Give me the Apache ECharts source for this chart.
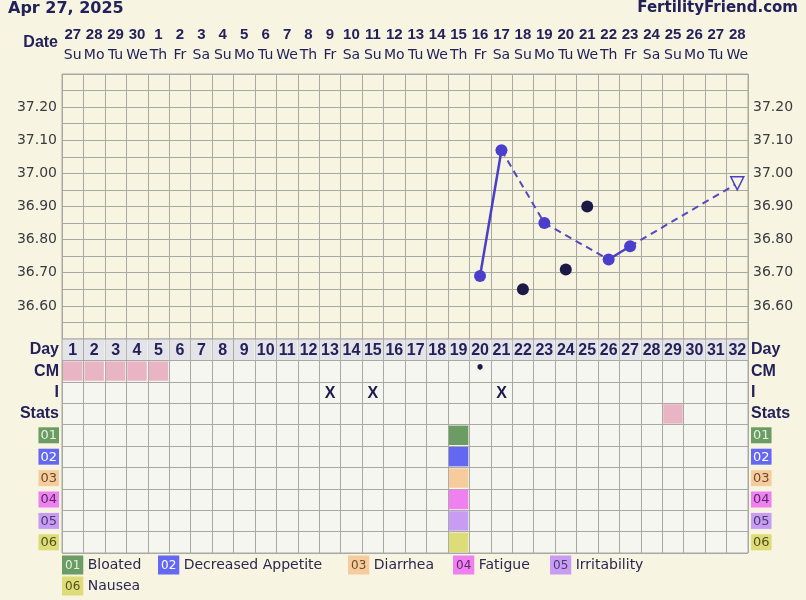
<!DOCTYPE html>
<html><head><meta charset="utf-8">
<script src="https://cdn.jsdelivr.net/npm/echarts@6/dist/echarts.min.js"></script>
<style>html,body{margin:0;padding:0;background:#f7f4e1;}#c{width:806px;height:600px;}</style>
</head><body><div id="c"></div>
<script>
// ---------- data ----------
const chartDate = 'Apr 27, 2025';
const siteName = 'FertilityFriend.com';
const dateNumbers = ['27','28','29','30','1','2','3','4','5','6','7','8','9','10','11','12','13','14','15','16','17','18','19','20','21','22','23','24','25','26','27','28'];
const weekdays = ['Su','Mo','Tu','We','Th','Fr','Sa','Su','Mo','Tu','We','Th','Fr','Sa','Su','Mo','Tu','We','Th','Fr','Sa','Su','Mo','Tu','We','Th','Fr','Sa','Su','Mo','Tu','We'];
const cycleDays = ['1','2','3','4','5','6','7','8','9','10','11','12','13','14','15','16','17','18','19','20','21','22','23','24','25','26','27','28','29','30','31','32'];
const tempLabels = ['36.60','36.70','36.80','36.90','37.00','37.10','37.20'];
const tempDays = ['20','21','23','26','27'];
const tempValues = [36.69, 37.07, 36.85, 36.74, 36.78];
const excludedDays = ['22','24','25'];
const excludedValues = [36.65, 36.71, 36.90];
const projectedDay = '32';
const projectedValue = 36.97;
const solidSegments = [['20','21'], ['26','27']];
const dashedSegments = [['21','23'], ['23','26'], ['27','32']];
const rowLabels = ['Day','CM','I','Stats','01','02','03','04','05','06'];
const cmMenstrualDays = ['1','2','3','4','5'];
const cmDotDays = ['20'];
const intercourseDays = ['13','15','21'];
const statsMarkDays = ['29'];
const symptomCodes = ['01','02','03','04','05','06'];
const symptomNames = ['Bloated','Decreased Appetite','Diarrhea','Fatigue','Irritability','Nausea'];
const symptomDays = [['19'],['19'],['19'],['19'],['19'],['19']];

// ---------- styles ----------
const FONT = 'DejaVu Sans';
const BFONT = 'Liberation Sans';
const NAVY = '#23215a';
const LINE = '#4a3fc6';
const GRIDC = '#a9a9a4';
const BG = '#f7f4e1';
const PINK = '#e9b5c5';
const symptomFill = ['#6b9c64','#6467f2','#f6cc9c','#ef80ef','#c79cf2','#dedc78'];
const symptomText = ['#e8f2e0','#ffffff','#6a4a30','#5a2a6a','#4a3a70','#505020'];

const tempLookup = {};
tempDays.forEach((d,i)=>{ tempLookup[d] = tempValues[i]; });
tempLookup[projectedDay] = projectedValue;

const rich = { lab: {fontWeight:'bold', color:NAVY, fontSize:16, fontFamily:BFONT} };
symptomCodes.forEach((c,i)=>{
  rich['s'+i] = {backgroundColor:symptomFill[i], color:symptomText[i], fontSize:13, fontFamily:FONT, padding:[2,2,1,2], lineHeight:15};
});
function rowLabelFmt(v){ const i = symptomCodes.indexOf(v); return i >= 0 ? '{s'+i+'|'+v+'}' : '{lab|'+v+'}'; }
function tempFmt(v){ const s = (Math.round(v*100)/100).toFixed(2); return tempLabels.indexOf(s) >= 0 ? s : ''; }

function cellBox(api, inset){
  const c = api.coord([api.value(0), api.value(1)]);
  const s = api.size([1,1]);
  return {c, s, shape:{x:c[0]-s[0]/2+inset, y:c[1]-s[1]/2+inset, width:s[0]-2*inset, height:s[1]-2*inset}};
}

const series = [];
solidSegments.forEach(seg => series.push({
  type:'line', xAxisIndex:0, yAxisIndex:0, data: seg.map(d=>[d, tempLookup[d]]),
  showSymbol:false, silent:true, z:3, lineStyle:{color:LINE, width:2.5, opacity:1}
}));
dashedSegments.forEach(seg => series.push({
  type:'line', xAxisIndex:0, yAxisIndex:0, data: seg.map(d=>[d, tempLookup[d]]),
  showSymbol:false, silent:true, z:3, lineStyle:{color:'#5548c0', width:2, type:[7,5], opacity:1}
}));
series.push({type:'scatter', xAxisIndex:0, yAxisIndex:0, z:5, symbolSize:12,
  data: tempDays.map((d,i)=>[d, tempValues[i]]), itemStyle:{color:'#4a3fcc', opacity:1}});
series.push({type:'scatter', xAxisIndex:0, yAxisIndex:0, z:5, symbolSize:12,
  data: excludedDays.map((d,i)=>[d, excludedValues[i]]), itemStyle:{color:'#1c1947', opacity:1}});
series.push({type:'scatter', xAxisIndex:0, yAxisIndex:0, z:6, symbol:'triangle', symbolRotate:180, symbolSize:13,
  data: [[projectedDay, projectedValue]], itemStyle:{color:BG, borderColor:LINE, borderWidth:1.5, opacity:1}});

// Day row
series.push({type:'custom', xAxisIndex:1, yAxisIndex:2, z:2,
  data: cycleDays.map(d=>[d,'Day']),
  renderItem:(params, api)=>{
    const b = cellBox(api, 0.5);
    return {type:'group', children:[
      {type:'rect', shape:b.shape, style:{fill:'#e3e3e8'}},
      {type:'text', x:b.c[0], y:b.c[1]+1, style:{text:cycleDays[params.dataIndex], fill:NAVY, font:'bold 16px '+BFONT, align:'center', verticalAlign:'middle'}}
    ]};
  }
});

// coloured cells
const colorCells = [];
cmMenstrualDays.forEach(d=>colorCells.push({value:[d,'CM'], itemStyle:{color:PINK}}));
statsMarkDays.forEach(d=>colorCells.push({value:[d,'Stats'], itemStyle:{color:PINK}}));
symptomCodes.forEach((c,i)=>symptomDays[i].forEach(d=>colorCells.push({value:[d,c], itemStyle:{color:symptomFill[i]}})));
series.push({type:'custom', xAxisIndex:1, yAxisIndex:2, z:2, data: colorCells,
  renderItem:(params, api)=>{
    const b = cellBox(api, 1);
    return {type:'rect', shape:b.shape, style:{fill:api.visual('color'), opacity:1}};
  }
});

// text marks
const markTexts = [];
const markData = [];
cmDotDays.forEach(d=>{ markData.push([d,'CM']); markTexts.push('•'); });
intercourseDays.forEach(d=>{ markData.push([d,'I']); markTexts.push('X'); });
series.push({type:'custom', xAxisIndex:1, yAxisIndex:2, z:3, data: markData,
  renderItem:(params, api)=>{
    const b = cellBox(api, 0);
    const t = markTexts[params.dataIndex];
    return {type:'text', x:b.c[0], y:b.c[1] + (t === '•' ? -2 : 1),
      style:{text:t, fill:'#1d1a4a', font:(t === '•' ? 'bold 15px '+FONT : 'bold 16px '+BFONT), align:'center', verticalAlign:'middle'}};
  }
});

// legend as graphic text
const legendPos = [[62,565],[158,565],[348,565],[453,565],[550,565],[62,586]];
const graphic = [
  {type:'text', left:8, top:1, style:{text:chartDate, font:'bold 16px '+FONT, fill:NAVY}},
  {type:'text', right:8, top:1, style:{text:siteName, font:'bold 15px '+FONT, fill:NAVY}},
  {type:'text', x:58, y:43, style:{text:'Date', font:'bold 16px '+BFONT, fill:NAVY, align:'right', verticalAlign:'middle'}}
];
symptomCodes.forEach((c,i)=>{
  graphic.push({type:'text', x:legendPos[i][0], y:legendPos[i][1], style:{
    text:'{b|'+c+'}{n| '+symptomNames[i]+'}', verticalAlign:'middle',
    rich:{ b:{backgroundColor:symptomFill[i], fill:symptomText[i], fontSize:12, fontFamily:FONT, padding:[4,3,3,3], lineHeight:13},
           n:{fill:'#2a2850', fontSize:14, fontFamily:FONT} }
  }});
});

const option = {
  backgroundColor: BG,
  animation: false,
  textStyle:{fontFamily:FONT},
  graphic,
  grid: [
    {left:62, right:58, top:74, height:265, show:true, borderColor:GRIDC, borderWidth:1, backgroundColor:'transparent'},
    {left:62, right:58, top:339, height:214, show:true, borderColor:GRIDC, borderWidth:1, backgroundColor:'#f6f6f1'}
  ],
  xAxis: [
    {type:'category', gridIndex:0, data:cycleDays, position:'top',
      axisLine:{show:false}, axisTick:{show:false},
      axisLabel:{interval:0, margin:8, formatter:(v, i)=>'{d|'+dateNumbers[i]+'}\n{w|'+weekdays[i]+'}',
        rich:{d:{fontWeight:'bold', fontSize:15, color:NAVY, fontFamily:BFONT, lineHeight:21},
              w:{fontSize:14, color:NAVY, fontFamily:FONT, lineHeight:21}}},
      splitLine:{show:true, interval:0, lineStyle:{color:GRIDC, width:1}}},
    {type:'category', gridIndex:1, data:cycleDays,
      axisLine:{show:false}, axisTick:{show:false}, axisLabel:{show:false},
      splitLine:{show:true, interval:0, lineStyle:{color:GRIDC, width:1}}}
  ],
  yAxis: [
    {type:'value', gridIndex:0, min:36.5, max:37.3, interval:0.05, position:'left',
      axisLine:{show:false}, axisTick:{show:false},
      axisLabel:{formatter:tempFmt, margin:5, color:'#3a3a40', fontSize:14, fontFamily:FONT, showMinLabel:true, showMaxLabel:true},
      splitLine:{show:true, lineStyle:{color:GRIDC, width:1}}},
    {type:'value', gridIndex:0, min:36.5, max:37.3, interval:0.05, position:'right',
      axisLine:{show:false}, axisTick:{show:false},
      axisLabel:{formatter:tempFmt, margin:5, color:'#3a3a40', fontSize:14, fontFamily:FONT},
      splitLine:{show:false}},
    {type:'category', gridIndex:1, data:rowLabels, inverse:true, position:'left',
      axisLine:{show:false}, axisTick:{show:false},
      axisLabel:{interval:0, margin:3, formatter:rowLabelFmt, rich},
      splitLine:{show:true, interval:0, lineStyle:{color:GRIDC, width:1}}},
    {type:'category', gridIndex:1, data:rowLabels, inverse:true, position:'right',
      axisLine:{show:false}, axisTick:{show:false},
      axisLabel:{interval:0, margin:3, formatter:rowLabelFmt, rich},
      splitLine:{show:false}}
  ],
  series
};
const chart = echarts.init(document.getElementById('c'));
chart.setOption(option);
</script></body></html>
